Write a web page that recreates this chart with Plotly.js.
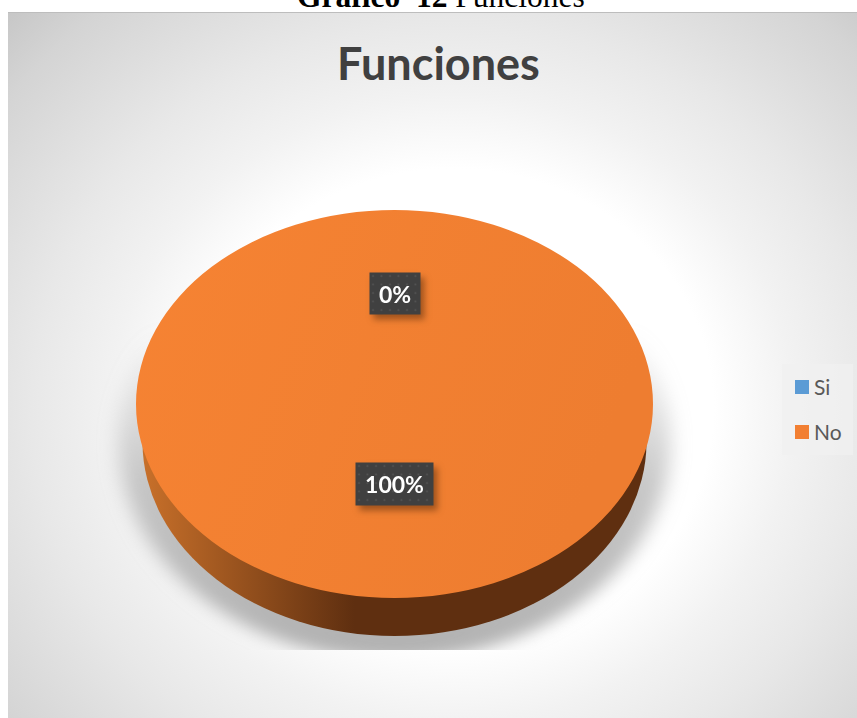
<!DOCTYPE html>
<html><head><meta charset="utf-8">
<script src="https://cdn.plot.ly/plotly-3.0.1.min.js"></script>
<style>
html,body{margin:0;padding:0;background:#fff;overflow:hidden}
#bg{position:absolute;left:8px;top:12px;width:849px;height:706px;border-top:1px solid #bdbdbd;box-sizing:border-box;
background:radial-gradient(ellipse 620px 570px at 445px 395px,#ffffff 0%,#ffffff 42%,#f2f2f2 55%,#e8e8e8 68%,#dddddd 80%,#d4d4d4 90%,#c4c4c4 102%)}
#chart{position:absolute;left:0;top:0;width:857px;height:718px}
</style></head>
<body><div id="bg"></div><div id="chart"></div>
<script>
const categories = ["Si", "No"];
const seriesValues = [0, 100];
const sliceColors = ["#5b9bd5", "#f27f32"];
const percentLabels = ["0%", "100%"];
const chartTitle = "Funciones";
const captionBold = "Gráfico\u00a0\u00a012";
const captionRest = "Funciones";

const W = 857, H = 718;
function dom(cx, cy, r) {
  return {x: [(cx - r) / W, (cx + r) / W], y: [1 - (cy + r) / H, 1 - (cy - r) / H]};
}
const FACE = {cx: 394.5, cy: 404, r: 258.5, ry: 194};
const WALL = {cx: 394.5, cy: 442, r: 252, ry: 194};
const SHAD = {cx: 394.5, cy: 440, r: 276, ry: 220};

function pie(g, colors, legend) {
  return {type: "pie", labels: categories, values: seriesValues, sort: false, direction: "clockwise",
    textinfo: "none", hoverinfo: "none", showlegend: legend,
    marker: {colors: colors, line: {width: 0}}, domain: dom(g.cx, g.cy, g.r)};
}
const data = [
  pie(SHAD, ["#a8a8a8", "#a8a8a8"], false),
  pie(WALL, ["#5f2f10", "#5f2f10"], false),
  pie(FACE, sliceColors, true)
];
const labelStyle = {xref: "paper", yref: "paper", showarrow: false, bgcolor: "#404040",
  font: {family: "Lato, sans-serif", size: 23, color: "#ffffff"}, xanchor: "center", yanchor: "middle"};
const layout = {
  width: W, height: H, margin: {l: 0, r: 0, t: 0, b: 0},
  paper_bgcolor: "rgba(0,0,0,0)", plot_bgcolor: "rgba(0,0,0,0)",
  title: {text: "<b>" + chartTitle + "</b>", x: 438.5 / W, xanchor: "center", y: 1 - 64 / H, yanchor: "middle",
    font: {family: "Lato, sans-serif", size: 45, color: "#404040"}},
  legend: {x: 782 / W, xanchor: "left", y: 1 - 364 / H, yanchor: "top", bgcolor: "rgba(240,240,240,0.75)",
    font: {family: "Lato, sans-serif", size: 21, color: "#595959"}, traceorder: "normal"},
  annotations: [
    Object.assign({}, labelStyle, {text: "<b>" + percentLabels[0] + "</b>", x: 395 / W, y: 1 - 293.5 / H, width: 48, height: 39}),
    Object.assign({}, labelStyle, {text: "<b>" + percentLabels[1] + "</b>", x: 394.5 / W, y: 1 - 484 / H, width: 75, height: 40}),
    {xref: "paper", yref: "paper", showarrow: false, x: 441 / W, y: 1 - 7 / H, xanchor: "center", yanchor: "bottom", yshift: -9,
     text: "<b>" + captionBold + "</b> " + captionRest,
     font: {family: "Liberation Serif, serif", size: 31.5, color: "#000000"}}
  ]
};
Plotly.newPlot("chart", data, layout, {displayModeBar: false, staticPlot: true}).then(gd => {
  const svg = gd.querySelector("svg.main-svg");
  const NS = "http://www.w3.org/2000/svg";
  const defs = document.createElementNS(NS, "defs");
  defs.innerHTML = `
   <linearGradient id="wallG" x1="0" x2="1" y1="0" y2="0">
     <stop offset="0" stop-color="#c8702a"/><stop offset="0.42" stop-color="#5f2f10"/><stop offset="1" stop-color="#5f2f10"/>
   </linearGradient>
   <linearGradient id="faceG" x1="0" x2="1" y1="0" y2="0.3">
     <stop offset="0" stop-color="#f68333"/><stop offset="1" stop-color="#ee7d30"/>
   </linearGradient>
   <linearGradient id="shadG" x1="0" x2="0" y1="0" y2="1">
     <stop offset="0.25" stop-color="#b0b0b0" stop-opacity="0"/><stop offset="0.6" stop-color="#b0b0b0" stop-opacity="0.7"/><stop offset="1" stop-color="#b0b0b0"/>
   </linearGradient>
   <filter id="blur" x="-10%" y="-10%" width="120%" height="120%"><feGaussianBlur stdDeviation="10"/></filter>
   <clipPath id="clipB"><rect x="0" y="0" width="${W}" height="650"/></clipPath>
   <pattern id="dots" width="8.5" height="8.5" patternUnits="userSpaceOnUse">
     <rect width="8.5" height="8.5" fill="#404040"/><circle cx="4" cy="4" r="1" fill="#555555"/>
   </pattern>`;
  svg.insertBefore(defs, svg.firstChild);
  const layer = gd.querySelector(".pielayer");
  layer.setAttribute("clip-path", "url(#clipB)");
  const traces = layer.querySelectorAll(".trace");
  const geos = [SHAD, WALL, FACE];
  traces.forEach((t, i) => {
    const g = geos[i];
    t.setAttribute("transform", `translate(0,${g.cy}) scale(1,${g.ry / g.r}) translate(0,${-g.cy})`);
  });
  const fills = ["url(#shadG)", "url(#wallG)", "url(#faceG)"];
  traces.forEach((t, i) => t.querySelectorAll("path.surface").forEach(p => { p.style.fill = fills[i]; }));
  traces[0].setAttribute("filter", "url(#blur)");

  // annotation boxes: dotted fill and drop shadow
  const anns = gd.querySelectorAll(".annotation");
  [0, 1].forEach(i => {
    const bg = anns[i].querySelector("rect.bg");
    if (bg) bg.style.fill = "url(#dots)";
    anns[i].style.filter = "drop-shadow(4px 5px 3px rgba(80,40,10,0.5))";
  });

  // legend spacing as in the reference
  const leg = gd.querySelector(".legend");
  const step = 45;
  leg.querySelectorAll(".traces").forEach((it, i) => {
    it.setAttribute("transform", `translate(0,${23 + i * step})`);
    const tx = it.querySelector("text.legendtext");
    if (tx) tx.setAttribute("x", 32);
    const pt = it.querySelector(".legendpie");
    if (pt) {
      const base = pt.getAttribute("transform") || "";
      pt.setAttribute("transform", base + " scale(1.17)");
    }
  });
  const bg = leg.querySelector("rect.bg");
  bg.setAttribute("height", 91); bg.setAttribute("width", 71);
  const sc = leg.querySelector(".scrollbox");
  if (sc) sc.removeAttribute("clip-path");
});
</script></body></html>
